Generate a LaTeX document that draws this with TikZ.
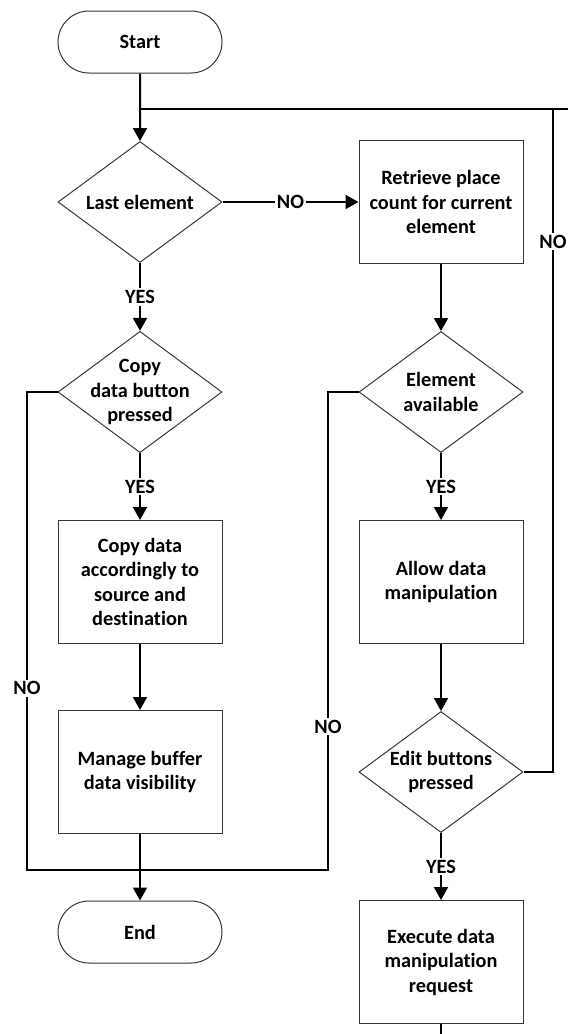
\documentclass[tikz,border=0pt]{standalone}
\usepackage{fontspec}
\setmainfont{Carlito}[Ligatures=NoCommon]
\definecolor{BoxGrey}{RGB}{55,55,55}
\usetikzlibrary{arrows.meta, shapes.geometric, shapes.misc, calc}

\begin{document}
\begin{tikzpicture}[x=1pt, y=-1pt,
	font=\bfseries\fontsize{20.3}{24.5}\selectfont,
	base/.style={draw=BoxGrey, line width=1pt, align=center, inner sep=0pt},
	term/.style={base, rounded rectangle, minimum width=164pt, minimum height=62pt},
	proc/.style={base, rectangle, minimum width=164pt, minimum height=123pt},
	dec/.style={base, diamond, aspect=1.35, inner xsep=-12pt, minimum width=164pt, minimum height=121pt},
	flow/.style={line width=2pt, -{Triangle[length=13pt, width=14pt]}},
	link/.style={line width=2pt},
	lbl/.style={fill=white, inner sep=2pt}]
	\useasboundingbox (0,0) rectangle (568,1034);

	% left column
	\node[term] (start) at (140,42) {Start};
	\node[dec] (last) at (140,202) {Last element};
	\node[dec] (copybtn) at (140,392) {Copy\\data button\\pressed};
	\node[proc] (copydata) at (140,582) {Copy data\\accordingly to\\source and\\destination};
	\node[proc] (buffer) at (140,772) {Manage buffer\\data visibility};
	\node[term] (end) at (140,932) {End};

	% right column
	\node[proc] (fetch) at (441,202) {Retrieve place\\count for current\\element};
	\node[dec] (avail) at (441,392) {Element\\available};
	\node[proc] (allow) at (441,582) {Allow data\\manipulation};
	\node[dec] (edit) at (441,772) {Edit buttons\\pressed};
	\node[proc] (exec) at (441,962) {Execute data\\manipulation\\request};

	\coordinate (join) at (140,109);
	\coordinate (loop) at (553,109);
	\coordinate (cut) at (568,109);
	\coordinate (merge) at (140,870);
	\coordinate (mergeL) at (27,870);
	\coordinate (mergeR) at (328,870);
	\coordinate (tail) at (441,1034);

	\draw[flow] (start) -- (last);
	\draw[flow] (last) -- node[lbl] {NO} (fetch);
	\draw[flow] (last) -- node[lbl] {YES} (copybtn);
	\draw[flow] (copybtn) -- node[lbl] {YES} (copydata);
	\draw[flow] (copydata) -- (buffer);
	\draw[flow] (buffer) -- (end);
	\draw[link] (copybtn.west) -| node[lbl, pos=0.81] {NO} (mergeL) -- (merge);

	\draw[flow] (fetch) -- (avail);
	\draw[flow] (avail) -- node[lbl] {YES} (allow);
	\draw[flow] (allow) -- (edit);
	\draw[flow] (edit) -- node[lbl] {YES} (exec);
	\draw[link] (exec) -- (tail);
	\draw[link] (avail.west) -| node[lbl, pos=0.85] {NO} (mergeR) -- (merge);

	% back to the top
	\draw[link] (edit.east) -| node[lbl, pos=0.9] {NO} (loop) -- (join);
	\draw[link] (loop) -- (cut);
\end{tikzpicture}
\end{document}
